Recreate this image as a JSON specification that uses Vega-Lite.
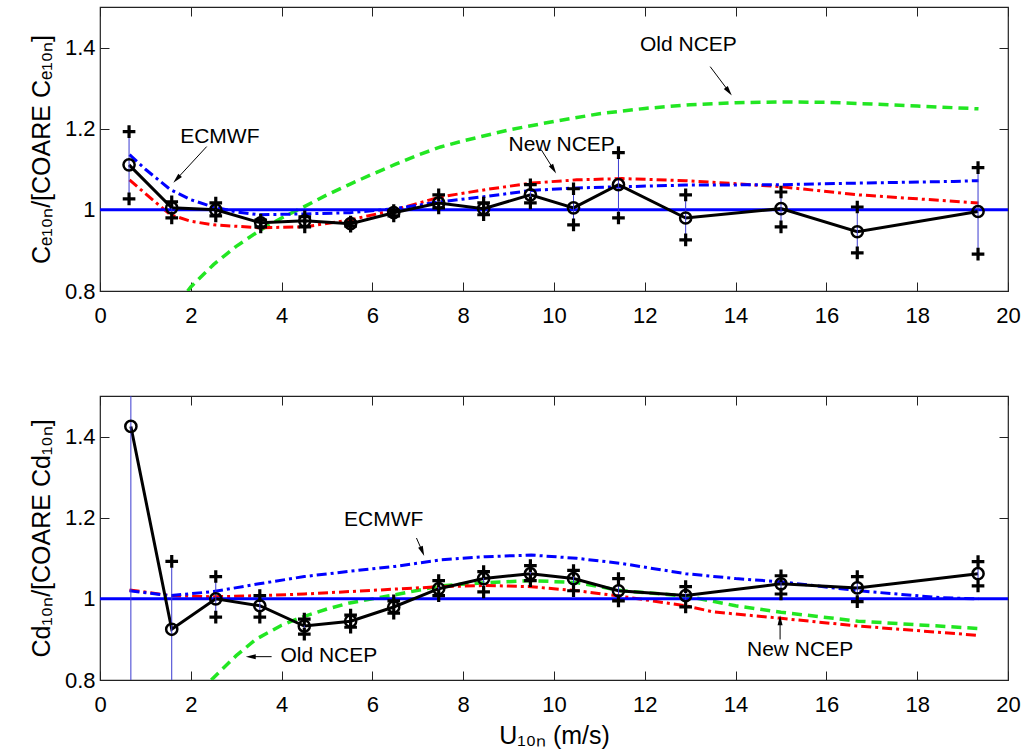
{
  "$schema": "https://vega.github.io/schema/vega-lite/v6.json",
  "background": "white",
  "padding": {"left": 28, "top": 5, "right": 5, "bottom": 5},
  "spacing": 67,
  "config": {
    "font": "Liberation Sans",
    "view": {"stroke": "#222222", "strokeWidth": 1.2},
    "axis": {"grid": false, "domain": false, "labelFlush": false, "labelOverlap": false, "labelColor": "black", "tickColor": "#222222", "titleColor": "black", "titleFontWeight": "normal", "labelFont": "Liberation Sans", "titleFont": "Liberation Sans"}
  },
  "datasets": {
    "curves_top": [
      {"model": "ECMWF", "u": 0.65, "v": 1.136}, {"model": "ECMWF", "u": 1.0, "v": 1.1}, {"model": "ECMWF", "u": 1.55, "v": 1.05}, {"model": "ECMWF", "u": 2.0, "v": 1.025}, {"model": "ECMWF", "u": 2.5, "v": 1.007}, {"model": "ECMWF", "u": 3.0, "v": 0.995}, {"model": "ECMWF", "u": 3.5, "v": 0.988}, {"model": "ECMWF", "u": 4.5, "v": 0.99}, {"model": "ECMWF", "u": 5.5, "v": 0.993}, {"model": "ECMWF", "u": 6.5, "v": 1.003}, {"model": "ECMWF", "u": 7.5, "v": 1.02}, {"model": "ECMWF", "u": 8.5, "v": 1.033}, {"model": "ECMWF", "u": 9.5, "v": 1.048}, {"model": "ECMWF", "u": 10.5, "v": 1.054}, {"model": "ECMWF", "u": 11.5, "v": 1.057}, {"model": "ECMWF", "u": 12.9, "v": 1.061}, {"model": "ECMWF", "u": 15.0, "v": 1.062}, {"model": "ECMWF", "u": 16.7, "v": 1.066}, {"model": "ECMWF", "u": 18.8, "v": 1.07}, {"model": "ECMWF", "u": 19.35, "v": 1.072},
      {"model": "New NCEP", "u": 0.65, "v": 1.074}, {"model": "New NCEP", "u": 1.0, "v": 1.04}, {"model": "New NCEP", "u": 1.55, "v": 0.988}, {"model": "New NCEP", "u": 2.0, "v": 0.972}, {"model": "New NCEP", "u": 2.5, "v": 0.963}, {"model": "New NCEP", "u": 3.5, "v": 0.956}, {"model": "New NCEP", "u": 4.5, "v": 0.958}, {"model": "New NCEP", "u": 5.5, "v": 0.975}, {"model": "New NCEP", "u": 6.5, "v": 1.0}, {"model": "New NCEP", "u": 7.5, "v": 1.032}, {"model": "New NCEP", "u": 8.5, "v": 1.05}, {"model": "New NCEP", "u": 9.5, "v": 1.066}, {"model": "New NCEP", "u": 10.5, "v": 1.074}, {"model": "New NCEP", "u": 11.5, "v": 1.077}, {"model": "New NCEP", "u": 12.9, "v": 1.072}, {"model": "New NCEP", "u": 13.5, "v": 1.068}, {"model": "New NCEP", "u": 15.0, "v": 1.057}, {"model": "New NCEP", "u": 16.7, "v": 1.037}, {"model": "New NCEP", "u": 19.35, "v": 1.017},
      {"model": "Old NCEP", "u": 1.93, "v": 0.8}, {"model": "Old NCEP", "u": 2.0, "v": 0.81}, {"model": "Old NCEP", "u": 2.5, "v": 0.865}, {"model": "Old NCEP", "u": 3.0, "v": 0.91}, {"model": "Old NCEP", "u": 3.5, "v": 0.948}, {"model": "Old NCEP", "u": 4.0, "v": 0.98}, {"model": "Old NCEP", "u": 4.5, "v": 1.008}, {"model": "Old NCEP", "u": 5.0, "v": 1.037}, {"model": "Old NCEP", "u": 5.5, "v": 1.063}, {"model": "Old NCEP", "u": 6.0, "v": 1.088}, {"model": "Old NCEP", "u": 6.5, "v": 1.112}, {"model": "Old NCEP", "u": 7.0, "v": 1.135}, {"model": "Old NCEP", "u": 7.5, "v": 1.155}, {"model": "Old NCEP", "u": 8.0, "v": 1.17}, {"model": "Old NCEP", "u": 9.0, "v": 1.197}, {"model": "Old NCEP", "u": 10.0, "v": 1.218}, {"model": "Old NCEP", "u": 11.0, "v": 1.237}, {"model": "Old NCEP", "u": 12.0, "v": 1.25}, {"model": "Old NCEP", "u": 13.0, "v": 1.259}, {"model": "Old NCEP", "u": 14.0, "v": 1.264}, {"model": "Old NCEP", "u": 15.0, "v": 1.266}, {"model": "Old NCEP", "u": 16.0, "v": 1.265}, {"model": "Old NCEP", "u": 17.0, "v": 1.261}, {"model": "Old NCEP", "u": 18.0, "v": 1.256}, {"model": "Old NCEP", "u": 19.35, "v": 1.249}
    ],
    "curves_bot": [
      {"model": "ECMWF", "u": 0.65, "v": 1.02}, {"model": "ECMWF", "u": 1.55, "v": 1.008}, {"model": "ECMWF", "u": 2.5, "v": 1.018}, {"model": "ECMWF", "u": 3.5, "v": 1.037}, {"model": "ECMWF", "u": 4.5, "v": 1.055}, {"model": "ECMWF", "u": 5.5, "v": 1.068}, {"model": "ECMWF", "u": 6.5, "v": 1.08}, {"model": "ECMWF", "u": 7.5, "v": 1.096}, {"model": "ECMWF", "u": 8.5, "v": 1.104}, {"model": "ECMWF", "u": 9.5, "v": 1.108}, {"model": "ECMWF", "u": 10.5, "v": 1.1}, {"model": "ECMWF", "u": 11.5, "v": 1.087}, {"model": "ECMWF", "u": 12.9, "v": 1.062}, {"model": "ECMWF", "u": 14.0, "v": 1.05}, {"model": "ECMWF", "u": 15.0, "v": 1.042}, {"model": "ECMWF", "u": 16.7, "v": 1.02}, {"model": "ECMWF", "u": 18.5, "v": 1.003}, {"model": "ECMWF", "u": 19.35, "v": 1.0},
      {"model": "New NCEP", "u": 0.65, "v": 1.022}, {"model": "New NCEP", "u": 1.55, "v": 1.008}, {"model": "New NCEP", "u": 2.5, "v": 1.005}, {"model": "New NCEP", "u": 3.5, "v": 1.008}, {"model": "New NCEP", "u": 4.5, "v": 1.012}, {"model": "New NCEP", "u": 5.5, "v": 1.018}, {"model": "New NCEP", "u": 6.5, "v": 1.024}, {"model": "New NCEP", "u": 7.5, "v": 1.03}, {"model": "New NCEP", "u": 8.5, "v": 1.033}, {"model": "New NCEP", "u": 9.5, "v": 1.03}, {"model": "New NCEP", "u": 10.5, "v": 1.02}, {"model": "New NCEP", "u": 11.5, "v": 1.006}, {"model": "New NCEP", "u": 12.9, "v": 0.983}, {"model": "New NCEP", "u": 13.5, "v": 0.968}, {"model": "New NCEP", "u": 15.0, "v": 0.952}, {"model": "New NCEP", "u": 16.7, "v": 0.933}, {"model": "New NCEP", "u": 19.35, "v": 0.91},
      {"model": "Old NCEP", "u": 2.45, "v": 0.8}, {"model": "Old NCEP", "u": 3.0, "v": 0.86}, {"model": "Old NCEP", "u": 3.43, "v": 0.9}, {"model": "Old NCEP", "u": 4.0, "v": 0.935}, {"model": "Old NCEP", "u": 4.45, "v": 0.955}, {"model": "Old NCEP", "u": 5.0, "v": 0.975}, {"model": "Old NCEP", "u": 5.5, "v": 0.99}, {"model": "Old NCEP", "u": 6.0, "v": 1.0}, {"model": "Old NCEP", "u": 6.5, "v": 1.01}, {"model": "Old NCEP", "u": 7.5, "v": 1.032}, {"model": "Old NCEP", "u": 8.5, "v": 1.04}, {"model": "Old NCEP", "u": 9.5, "v": 1.045}, {"model": "Old NCEP", "u": 10.5, "v": 1.04}, {"model": "Old NCEP", "u": 11.5, "v": 1.02}, {"model": "Old NCEP", "u": 12.9, "v": 1.007}, {"model": "Old NCEP", "u": 14.0, "v": 0.983}, {"model": "Old NCEP", "u": 15.0, "v": 0.967}, {"model": "Old NCEP", "u": 16.7, "v": 0.945}, {"model": "Old NCEP", "u": 19.35, "v": 0.927}
    ],
    "obs_top": [
      {"u": 0.64, "r": 1.111, "lo": 1.027, "hi": 1.193},
      {"u": 1.58, "r": 1.005, "lo": 0.98, "hi": 1.02},
      {"u": 2.55, "r": 1.0, "lo": 0.985, "hi": 1.017},
      {"u": 3.54, "r": 0.968, "lo": 0.958, "hi": 0.975},
      {"u": 4.51, "r": 0.973, "lo": 0.958, "hi": 0.983},
      {"u": 5.52, "r": 0.966, "lo": 0.96, "hi": 0.97},
      {"u": 6.47, "r": 0.993, "lo": 0.985, "hi": 0.998},
      {"u": 7.46, "r": 1.017, "lo": 1.005, "hi": 1.037},
      {"u": 8.45, "r": 1.003, "lo": 0.988, "hi": 1.017},
      {"u": 9.48, "r": 1.037, "lo": 1.017, "hi": 1.062},
      {"u": 10.43, "r": 1.005, "lo": 0.963, "hi": 1.052},
      {"u": 11.42, "r": 1.062, "lo": 0.98, "hi": 1.141},
      {"u": 12.9, "r": 0.98, "lo": 0.926, "hi": 1.037},
      {"u": 15.0, "r": 1.003, "lo": 0.958, "hi": 1.044},
      {"u": 16.68, "r": 0.946, "lo": 0.894, "hi": 1.007},
      {"u": 19.34, "r": 0.996, "lo": 0.891, "hi": 1.104}
    ],
    "obs_bot": [
      {"u": 0.68, "r": 1.425, "lo": 0.3, "hi": 2.5},
      {"u": 1.58, "r": 0.925, "lo": 0.5, "hi": 1.0925},
      {"u": 2.55, "r": 1.0, "lo": 0.955, "hi": 1.055},
      {"u": 3.52, "r": 0.983, "lo": 0.955, "hi": 1.008},
      {"u": 4.5, "r": 0.933, "lo": 0.913, "hi": 0.95},
      {"u": 5.52, "r": 0.945, "lo": 0.93, "hi": 0.96},
      {"u": 6.47, "r": 0.98, "lo": 0.965, "hi": 0.995},
      {"u": 7.46, "r": 1.025, "lo": 1.008, "hi": 1.045},
      {"u": 8.45, "r": 1.05, "lo": 1.017, "hi": 1.067},
      {"u": 9.48, "r": 1.062, "lo": 1.045, "hi": 1.082},
      {"u": 10.43, "r": 1.05, "lo": 1.02, "hi": 1.07},
      {"u": 11.42, "r": 1.02, "lo": 0.995, "hi": 1.05},
      {"u": 12.9, "r": 1.008, "lo": 0.98, "hi": 1.03},
      {"u": 15.0, "r": 1.037, "lo": 1.012, "hi": 1.057},
      {"u": 16.68, "r": 1.027, "lo": 0.993, "hi": 1.055},
      {"u": 19.34, "r": 1.062, "lo": 1.032, "hi": 1.092}
    ],
    "ann_top": [
      {"u": 2.64, "v": 1.18, "label": "ECMWF"},
      {"u": 10.17, "v": 1.16, "label": "New NCEP"},
      {"u": 12.96, "v": 1.407, "label": "Old NCEP"}
    ],
    "ann_bot": [
      {"u": 6.25, "v": 1.195, "label": "ECMWF"},
      {"u": 5.04, "v": 0.86, "label": "Old NCEP"},
      {"u": 15.42, "v": 0.875, "label": "New NCEP"}
    ],
    "arr_top": [
      {"u": 2.35, "v": 1.156, "u2": 1.69, "v2": 1.076, "angle": 223},
      {"u": 9.72, "v": 1.148, "u2": 9.99, "v2": 1.1, "angle": 149},
      {"u": 13.44, "v": 1.353, "u2": 13.85, "v2": 1.292, "angle": 143}
    ],
    "arr_bot": [
      {"u": 6.97, "v": 1.15, "u2": 7.1, "v2": 1.117, "angle": 158},
      {"u": 3.78, "v": 0.8575, "u2": 3.32, "v2": 0.8575, "angle": 270},
      {"u": 14.98, "v": 0.9, "u2": 14.98, "v2": 0.9475, "angle": 0}
    ]
  },
  "vconcat": [
    {
      "width": 908, "height": 284,
      "resolve": {"axis": {"x": "independent", "y": "independent"}},
      "layer": [
        {"data": {"name": "curves_top"}, "transform": [{"filter": "datum.model == 'Old NCEP'"}],
         "mark": {"type": "line", "color": "#22e622", "strokeWidth": 3.5, "strokeDash": [10, 6], "clip": true},
         "encoding": {
           "x": {"field": "u", "type": "quantitative", "scale": {"domain": [0, 20], "nice": false}, "axis": {"orient": "bottom", "values": [0, 2, 4, 6, 8, 10, 12, 14, 16, 18, 20], "tickSize": -9, "labelPadding": 23, "labelFontSize": 22, "title": null}},
           "y": {"field": "v", "type": "quantitative", "scale": {"domain": [0.8, 1.5], "nice": false, "zero": false}, "axis": {"orient": "left", "values": [0.8, 1, 1.2, 1.4], "format": ".1~f", "tickSize": -9, "labelPadding": 14, "labelFontSize": 22, "title": "Cₑ₁₀ₙ/[COARE Cₑ₁₀ₙ]", "titleFontSize": 25, "titlePadding": 10}}
         }},
        {"data": {"name": "curves_top"}, "transform": [{"filter": "datum.model == 'New NCEP'"}],
         "mark": {"type": "line", "color": "#ff0000", "strokeWidth": 3, "strokeDash": [10, 4, 3, 4], "clip": true},
         "encoding": {
           "x": {"field": "u", "type": "quantitative", "scale": {"domain": [0, 20], "nice": false}, "axis": null},
           "y": {"field": "v", "type": "quantitative", "scale": {"domain": [0.8, 1.5], "nice": false, "zero": false}, "axis": null}
         }},
        {"data": {"name": "curves_top"}, "transform": [{"filter": "datum.model == 'ECMWF'"}],
         "mark": {"type": "line", "color": "#0000ff", "strokeWidth": 3, "strokeDash": [10, 4, 3, 4], "clip": true},
         "encoding": {
           "x": {"field": "u", "type": "quantitative", "scale": {"domain": [0, 20], "nice": false}, "axis": null},
           "y": {"field": "v", "type": "quantitative", "scale": {"domain": [0.8, 1.5], "nice": false, "zero": false}, "axis": null}
         }},
        {"data": {"values": [{}]},
         "mark": {"type": "rule", "color": "#0000ff", "strokeWidth": 3},
         "encoding": {"y": {"datum": 1, "type": "quantitative", "scale": {"domain": [0.8, 1.5], "nice": false, "zero": false}, "axis": null}}},
        {"data": {"name": "obs_top"},
         "mark": {"type": "line", "color": "black", "strokeWidth": 3, "clip": true},
         "encoding": {
           "x": {"field": "u", "type": "quantitative", "scale": {"domain": [0, 20], "nice": false}, "axis": {"orient": "top", "values": [0, 2, 4, 6, 8, 10, 12, 14, 16, 18, 20], "tickSize": -9, "labels": false, "title": null}},
           "y": {"field": "r", "type": "quantitative", "scale": {"domain": [0.8, 1.5], "nice": false, "zero": false}, "axis": {"orient": "right", "values": [0.8, 1, 1.2, 1.4], "tickSize": -9, "labels": false, "title": null}}
         }},
        {"data": {"name": "obs_top"},
         "mark": {"type": "rule", "color": "#3a3ad0", "strokeWidth": 1, "clip": true},
         "encoding": {
           "x": {"field": "u", "type": "quantitative", "scale": {"domain": [0, 20], "nice": false}, "axis": null},
           "y": {"field": "lo", "type": "quantitative", "scale": {"domain": [0.8, 1.5], "nice": false, "zero": false}, "axis": null},
           "y2": {"field": "hi"}
         }},
        {"data": {"name": "obs_top"}, "transform": [{"fold": ["lo", "hi"], "as": ["end", "val"]}],
         "mark": {"type": "point", "shape": "M-1,0L1,0M0,-1L0,1", "filled": false, "stroke": "black", "strokeWidth": 3.2, "size": 160, "opacity": 1, "clip": true},
         "encoding": {
           "x": {"field": "u", "type": "quantitative", "scale": {"domain": [0, 20], "nice": false}, "axis": null},
           "y": {"field": "val", "type": "quantitative", "scale": {"domain": [0.8, 1.5], "nice": false, "zero": false}, "axis": null}
         }},
        {"data": {"name": "obs_top"},
         "mark": {"type": "point", "shape": "circle", "filled": false, "stroke": "black", "strokeWidth": 2.5, "size": 125, "opacity": 1, "clip": true},
         "encoding": {
           "x": {"field": "u", "type": "quantitative", "scale": {"domain": [0, 20], "nice": false}, "axis": null},
           "y": {"field": "r", "type": "quantitative", "scale": {"domain": [0.8, 1.5], "nice": false, "zero": false}, "axis": null}
         }},
        {"data": {"name": "arr_top"},
         "mark": {"type": "rule", "color": "black", "strokeWidth": 1},
         "encoding": {
           "x": {"field": "u", "type": "quantitative", "scale": {"domain": [0, 20], "nice": false}, "axis": null},
           "y": {"field": "v", "type": "quantitative", "scale": {"domain": [0.8, 1.5], "nice": false, "zero": false}, "axis": null},
           "x2": {"field": "u2"}, "y2": {"field": "v2"}
         }},
        {"data": {"name": "arr_top"},
         "mark": {"type": "point", "shape": "M0,-1L0.5,1L-0.5,1Z", "filled": true, "color": "black", "size": 100, "opacity": 1},
         "encoding": {
           "x": {"field": "u2", "type": "quantitative", "scale": {"domain": [0, 20], "nice": false}, "axis": null},
           "y": {"field": "v2", "type": "quantitative", "scale": {"domain": [0.8, 1.5], "nice": false, "zero": false}, "axis": null},
           "angle": {"field": "angle", "type": "quantitative", "scale": null}
         }},
        {"data": {"name": "ann_top"},
         "mark": {"type": "text", "fontSize": 21, "color": "black", "align": "center", "baseline": "middle"},
         "encoding": {
           "x": {"field": "u", "type": "quantitative", "scale": {"domain": [0, 20], "nice": false}, "axis": null},
           "y": {"field": "v", "type": "quantitative", "scale": {"domain": [0.8, 1.5], "nice": false, "zero": false}, "axis": null},
           "text": {"field": "label"}
         }}
      ]
    },
    {
      "width": 908, "height": 284,
      "resolve": {"axis": {"x": "independent", "y": "independent"}},
      "layer": [
        {"data": {"name": "curves_bot"}, "transform": [{"filter": "datum.model == 'Old NCEP'"}],
         "mark": {"type": "line", "color": "#22e622", "strokeWidth": 3.5, "strokeDash": [10, 6], "clip": true},
         "encoding": {
           "x": {"field": "u", "type": "quantitative", "scale": {"domain": [0, 20], "nice": false}, "axis": {"orient": "bottom", "values": [0, 2, 4, 6, 8, 10, 12, 14, 16, 18, 20], "tickSize": -9, "labelPadding": 23, "labelFontSize": 22, "title": "U₁₀ₙ (m/s)", "titleFontSize": 25, "titlePadding": 8}},
           "y": {"field": "v", "type": "quantitative", "scale": {"domain": [0.8, 1.5], "nice": false, "zero": false}, "axis": {"orient": "left", "values": [0.8, 1, 1.2, 1.4], "format": ".1~f", "tickSize": -9, "labelPadding": 14, "labelFontSize": 22, "title": "Cd₁₀ₙ/[COARE Cd₁₀ₙ]", "titleFontSize": 25, "titlePadding": 10}}
         }},
        {"data": {"name": "curves_bot"}, "transform": [{"filter": "datum.model == 'New NCEP'"}],
         "mark": {"type": "line", "color": "#ff0000", "strokeWidth": 3, "strokeDash": [10, 4, 3, 4], "clip": true},
         "encoding": {
           "x": {"field": "u", "type": "quantitative", "scale": {"domain": [0, 20], "nice": false}, "axis": null},
           "y": {"field": "v", "type": "quantitative", "scale": {"domain": [0.8, 1.5], "nice": false, "zero": false}, "axis": null}
         }},
        {"data": {"name": "curves_bot"}, "transform": [{"filter": "datum.model == 'ECMWF'"}],
         "mark": {"type": "line", "color": "#0000ff", "strokeWidth": 3, "strokeDash": [10, 4, 3, 4], "clip": true},
         "encoding": {
           "x": {"field": "u", "type": "quantitative", "scale": {"domain": [0, 20], "nice": false}, "axis": null},
           "y": {"field": "v", "type": "quantitative", "scale": {"domain": [0.8, 1.5], "nice": false, "zero": false}, "axis": null}
         }},
        {"data": {"values": [{}]},
         "mark": {"type": "rule", "color": "#0000ff", "strokeWidth": 3},
         "encoding": {"y": {"datum": 1, "type": "quantitative", "scale": {"domain": [0.8, 1.5], "nice": false, "zero": false}, "axis": null}}},
        {"data": {"name": "obs_bot"},
         "mark": {"type": "line", "color": "black", "strokeWidth": 3, "clip": true},
         "encoding": {
           "x": {"field": "u", "type": "quantitative", "scale": {"domain": [0, 20], "nice": false}, "axis": {"orient": "top", "values": [0, 2, 4, 6, 8, 10, 12, 14, 16, 18, 20], "tickSize": -9, "labels": false, "title": null}},
           "y": {"field": "r", "type": "quantitative", "scale": {"domain": [0.8, 1.5], "nice": false, "zero": false}, "axis": {"orient": "right", "values": [0.8, 1, 1.2, 1.4], "tickSize": -9, "labels": false, "title": null}}
         }},
        {"data": {"name": "obs_bot"},
         "mark": {"type": "rule", "color": "#3a3ad0", "strokeWidth": 1, "clip": true},
         "encoding": {
           "x": {"field": "u", "type": "quantitative", "scale": {"domain": [0, 20], "nice": false}, "axis": null},
           "y": {"field": "lo", "type": "quantitative", "scale": {"domain": [0.8, 1.5], "nice": false, "zero": false}, "axis": null},
           "y2": {"field": "hi"}
         }},
        {"data": {"name": "obs_bot"}, "transform": [{"fold": ["lo", "hi"], "as": ["end", "val"]}],
         "mark": {"type": "point", "shape": "M-1,0L1,0M0,-1L0,1", "filled": false, "stroke": "black", "strokeWidth": 3.2, "size": 160, "opacity": 1, "clip": true},
         "encoding": {
           "x": {"field": "u", "type": "quantitative", "scale": {"domain": [0, 20], "nice": false}, "axis": null},
           "y": {"field": "val", "type": "quantitative", "scale": {"domain": [0.8, 1.5], "nice": false, "zero": false}, "axis": null}
         }},
        {"data": {"name": "obs_bot"},
         "mark": {"type": "point", "shape": "circle", "filled": false, "stroke": "black", "strokeWidth": 2.5, "size": 125, "opacity": 1, "clip": true},
         "encoding": {
           "x": {"field": "u", "type": "quantitative", "scale": {"domain": [0, 20], "nice": false}, "axis": null},
           "y": {"field": "r", "type": "quantitative", "scale": {"domain": [0.8, 1.5], "nice": false, "zero": false}, "axis": null}
         }},
        {"data": {"name": "arr_bot"},
         "mark": {"type": "rule", "color": "black", "strokeWidth": 1},
         "encoding": {
           "x": {"field": "u", "type": "quantitative", "scale": {"domain": [0, 20], "nice": false}, "axis": null},
           "y": {"field": "v", "type": "quantitative", "scale": {"domain": [0.8, 1.5], "nice": false, "zero": false}, "axis": null},
           "x2": {"field": "u2"}, "y2": {"field": "v2"}
         }},
        {"data": {"name": "arr_bot"},
         "mark": {"type": "point", "shape": "M0,-1L0.5,1L-0.5,1Z", "filled": true, "color": "black", "size": 100, "opacity": 1},
         "encoding": {
           "x": {"field": "u2", "type": "quantitative", "scale": {"domain": [0, 20], "nice": false}, "axis": null},
           "y": {"field": "v2", "type": "quantitative", "scale": {"domain": [0.8, 1.5], "nice": false, "zero": false}, "axis": null},
           "angle": {"field": "angle", "type": "quantitative", "scale": null}
         }},
        {"data": {"name": "ann_bot"},
         "mark": {"type": "text", "fontSize": 21, "color": "black", "align": "center", "baseline": "middle"},
         "encoding": {
           "x": {"field": "u", "type": "quantitative", "scale": {"domain": [0, 20], "nice": false}, "axis": null},
           "y": {"field": "v", "type": "quantitative", "scale": {"domain": [0.8, 1.5], "nice": false, "zero": false}, "axis": null},
           "text": {"field": "label"}
         }}
      ]
    }
  ]
}
